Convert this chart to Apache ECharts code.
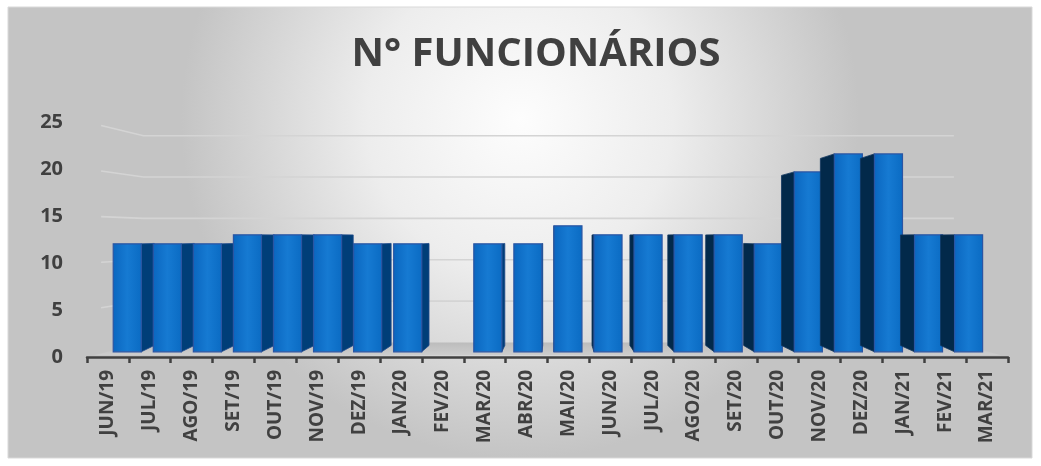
<!DOCTYPE html>
<html>
<head>
<meta charset="utf-8">
<script src="https://cdn.jsdelivr.net/npm/echarts@6/dist/echarts.min.js"></script>
<style>
  html, body { margin: 0; padding: 0; background: #ffffff; }
  #main { width: 1041px; height: 466px; }
</style>
</head>
<body>
<div id="main"></div>
<script>
// dados
var meses = ['JUN/19', 'JUL/19', 'AGO/19', 'SET/19', 'OUT/19', 'NOV/19', 'DEZ/19', 'JAN/20',
  'FEV/20', 'MAR/20', 'ABR/20', 'MAI/20', 'JUN/20', 'JUL/20', 'AGO/20', 'SET/20', 'OUT/20',
  'NOV/20', 'DEZ/20', 'JAN/21', 'FEV/21', 'MAR/21'];
var funcionarios = [12, 12, 12, 13, 13, 13, 12, 12, null, 12, 12, 14, 13, 13, 13, 13, 12, 20, 22, 22, 13, 13];
var yTicks = [5, 10, 15, 20, 25];

// "perspectiva" do grafico 3D do excel
var VP_CAT = 10.73;   // categoria onde fica o observador
var VP_VAL = 12.87;   // valor na linha do horizonte
var S_BAR = 0.957;    // face frontal das barras
var S_BACK = 0.945;   // fundo das barras (vertical)
var S_WALL = 0.88;    // parede de fundo
var S_LEFT = 0.97;    // inicio da parede esquerda

function persp(p, vp, s) {
  return [vp[0] + s * (p[0] - vp[0]), vp[1] + s * (p[1] - vp[1])];
}

function getVp(api) {
  var band = api.size([1, 0])[0];
  var c = api.coord([0, VP_VAL]);
  return [c[0] + VP_CAT * band, c[1]];
}

function renderBar(params, api) {
  var v = api.value(1);
  if (v == null || isNaN(v)) return;
  var i = api.value(0);
  var band = api.size([1, 0])[0];
  var hw = band * 0.35;
  var vp = getVp(api);
  var c0 = api.coord([i, 0]);
  var c1 = api.coord([i, v]);
  var a = persp([c0[0] - hw, c1[1]], vp, S_BAR);
  var b = persp([c0[0] + hw, c0[1]], vp, S_BAR);
  var left = a[0], right = b[0], top = a[1], bot = b[1];
  var topB = vp[1] + S_BACK * (top - vp[1]);
  var botB = vp[1] + S_BACK * (bot - vp[1]);
  var children = [];
  var cx = (left + right) / 2;
  var side;
  if (cx < vp[0]) {
    var w = Math.min(13, 0.054 * (vp[0] - right));
    side = { type: 'polygon', shape: { points: [[right, top], [right + w, topB], [right + w, botB], [right, bot]] },
      style: { fill: '#003e78', stroke: '#1f4a8a', lineWidth: 0.8 } };
  } else {
    var w2 = Math.min(14, 0.054 * (left - vp[0]));
    side = { type: 'polygon', shape: { points: [[left, top], [left - w2, topB], [left - w2, botB], [left, bot]] },
      style: { fill: '#02294a', stroke: '#12365e', lineWidth: 0.8 } };
  }
  children.push(side);
  children.push({
    type: 'rect',
    shape: { x: left, y: top, width: right - left, height: bot - top },
    style: {
      fill: new echarts.graphic.LinearGradient(0, 0, 1, 0, [
        { offset: 0, color: '#0a66bf' },
        { offset: 0.5, color: '#167ad2' },
        { offset: 1, color: '#0a6bc3' }
      ]),
      stroke: '#2b55a3',
      lineWidth: 1.2
    }
  });
  return { type: 'group', children: children };
}

function renderWall(params, api) {
  var v = api.value(1);
  var band = api.size([1, 0])[0];
  var vp = getVp(api);
  var c = api.coord([0, v]);
  var xL = c[0] - band / 2;
  var xR = api.coord([meses.length - 1, v])[0] + band / 2;
  var p0 = persp([xL, c[1]], vp, S_LEFT);
  var p1 = persp([xL, c[1]], vp, S_WALL);
  var p2 = persp([xR, c[1]], vp, S_WALL);
  return {
    type: 'polyline',
    shape: { points: [p0, p1, p2] },
    style: { stroke: '#d4d4d4', lineWidth: 1.6, fill: null }
  };
}

function renderFloor(params, api) {
  var band = api.size([1, 0])[0];
  var vp = getVp(api);
  var c = api.coord([0, 0]);
  var xL = c[0] - band / 2;
  var xR = api.coord([meses.length - 1, 0])[0] + band / 2;
  var f0 = persp([xL, c[1]], vp, 0.985);
  var f1 = persp([xR, c[1]], vp, 0.985);
  var b0 = persp([xL, c[1]], vp, S_WALL);
  var b1 = persp([xR, c[1]], vp, S_WALL);
  return {
    type: 'polygon',
    shape: { points: [b0, b1, f1, f0] },
    style: {
      fill: new echarts.graphic.LinearGradient(0, 0, 0, 1, [
        { offset: 0, color: '#bcbcbc' },
        { offset: 1, color: '#cdcdcd' }
      ])
    }
  };
}

var chart = echarts.init(document.getElementById('main'), null, { renderer: 'canvas' });

var option = {
  backgroundColor: '#ffffff',
  animation: false,
  textStyle: { fontFamily: 'Open Sans' },
  graphic: [{
    type: 'rect',
    z: -10,
    shape: { x: 8, y: 7, width: 1024, height: 451 },
    style: {
      fill: new echarts.graphic.RadialGradient(0.5, 0.25, 0.75, [
        { offset: 0, color: '#fdfdfd' },
        { offset: 0.45, color: '#ededed' },
        { offset: 1, color: '#c4c4c4' }
      ]),
      stroke: '#d9d9d9',
      lineWidth: 1
    }
  }],
  title: {
    text: 'N° FUNCIONÁRIOS',
    left: 531,
    textAlign: 'center',
    top: 30,
    textStyle: { fontFamily: 'Open Sans', fontWeight: 'bold', fontSize: 40, color: '#404040' }
  },
  grid: { left: 87, right: 33, top: 122, bottom: 109 },
  xAxis: {
    type: 'category',
    data: meses,
    boundaryGap: true,
    axisLine: { show: true, lineStyle: { color: '#404040', width: 2.5 } },
    axisTick: { show: true, length: 6, lineStyle: { color: '#404040', width: 2.5 } },
    axisLabel: {
      rotate: 90,
      interval: 0,
      margin: 13,
      fontFamily: 'Open Sans',
      fontWeight: 'bold',
      fontSize: 19,
      color: '#404040'
    },
    splitLine: { show: false }
  },
  yAxis: {
    type: 'value',
    min: 0,
    max: 25,
    interval: 5,
    axisLine: { show: false },
    axisTick: { show: false },
    splitLine: { show: false },
    axisLabel: {
      margin: 24,
      fontFamily: 'Open Sans',
      fontWeight: 'bold',
      fontSize: 20,
      color: '#404040'
    }
  },
  series: [
    {
      name: 'piso',
      type: 'custom',
      z: 1,
      renderItem: renderFloor,
      data: [[0, 0]],
      silent: true
    },
    {
      name: 'grade',
      type: 'custom',
      z: 1,
      renderItem: renderWall,
      data: yTicks.map(function (v) { return [0, v]; }),
      silent: true
    },
    {
      name: 'N° funcionários',
      type: 'custom',
      z: 3,
      renderItem: renderBar,
      encode: { x: 0, y: 1 },
      data: funcionarios.map(function (v, i) { return [i, v == null ? '-' : v]; })
    }
  ]
};

chart.setOption(option);
</script>
</body>
</html>
